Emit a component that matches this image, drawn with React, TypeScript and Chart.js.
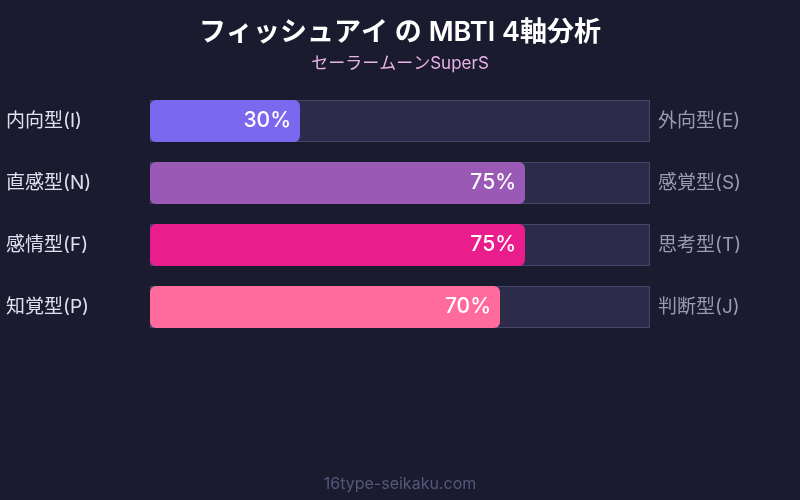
import React, { useEffect, useRef } from "react";
import { Chart, registerables } from "chart.js";

Chart.register(...registerables);

const titleText = "フィッシュアイ の MBTI 4軸分析";
const subtitleText = "セーラームーンSuperS";
const footerText = "16type-seikaku.com";
const leftLabels = ["内向型(I)", "直感型(N)", "感情型(F)", "知覚型(P)"];
const rightLabels = ["外向型(E)", "感覚型(S)", "思考型(T)", "判断型(J)"];
const values = [30, 75, 75, 70];
const trackValues = [100, 100, 100, 100];
const barColors = ["#7b68ee", "#9b59b6", "#e91e8c", "#ff6b9d"];

const FONT = "Inter, 'Noto Sans CJK JP', sans-serif";

export default function App() {
  const ref = useRef<HTMLCanvasElement | null>(null);
  useEffect(() => {
    if (!ref.current) return;
    const decor = {
      id: "decor",
      beforeDraw(chart: any) {
        const { ctx, width, height } = chart;
        ctx.save();
        ctx.fillStyle = "#1a1b2e";
        ctx.fillRect(0, 0, width, height);
        ctx.restore();
      },
      afterDatasetsDraw(chart: any) {
        const { ctx } = chart;
        ctx.save();
        ctx.textBaseline = "middle";
        ctx.textAlign = "center";
        ctx.fillStyle = "#ffffff";
        ctx.font = `600 27px ${FONT}`;
        ctx.fillText(titleText, 400, 33);
        ctx.fillStyle = "#e6b3e6";
        ctx.font = `17px ${FONT}`;
        ctx.fillText(subtitleText, 400, 64);
        ctx.fillStyle = "#55587a";
        ctx.font = `16px ${FONT}`;
        ctx.fillText(footerText, 400, 484);

        const meta = chart.getDatasetMeta(1);
        meta.data.forEach((bar: any, i: number) => {
          const y = bar.y;
          ctx.textAlign = "left";
          ctx.font = `19px ${FONT}`;
          ctx.fillStyle = "#e0e0f0";
          ctx.fillText(leftLabels[i], 6, y);
          ctx.fillStyle = "#9a9ab2";
          ctx.fillText(rightLabels[i], 658, y);
          ctx.textAlign = "right";
          ctx.font = `500 21px ${FONT}`;
          ctx.fillStyle = "#ffffff";
          ctx.fillText(values[i] + "%", bar.x - 9, y);
        });
        ctx.restore();
      },
    };
    const chart = new Chart(ref.current, {
      type: "bar",
      data: {
        labels: leftLabels,
        datasets: [
          {
            data: trackValues,
            backgroundColor: "#2d2b4a",
            borderColor: "#46456a",
            borderWidth: 1,
            borderSkipped: false,
            grouped: false,
            order: 2,
            barPercentage: 0.68,
            categoryPercentage: 1,
          } as any,
          {
            data: values,
            backgroundColor: barColors,
            borderWidth: 0,
            borderRadius: 6,
            borderSkipped: false,
            grouped: false,
            order: 1,
            barPercentage: 0.68,
            categoryPercentage: 1,
          } as any,
        ],
      },
      options: {
        indexAxis: "y",
        responsive: false,
        animation: false,
        layout: { padding: { top: 90, bottom: 162, left: 150, right: 150 } },
        scales: {
          x: { display: false, min: 0, max: 100 },
          y: { display: false },
        },
        plugins: {
          legend: { display: false },
          title: { display: false },
          tooltip: { enabled: false },
        },
      },
      plugins: [decor],
    });
    return () => chart.destroy();
  }, []);
  return (
    <div style={{ position: "absolute", left: 0, top: 0, width: 800, height: 500, background: "#1a1b2e" }}>
      <canvas ref={ref} width={800} height={500} style={{ width: 800, height: 500, display: "block" }} />
    </div>
  );
}
